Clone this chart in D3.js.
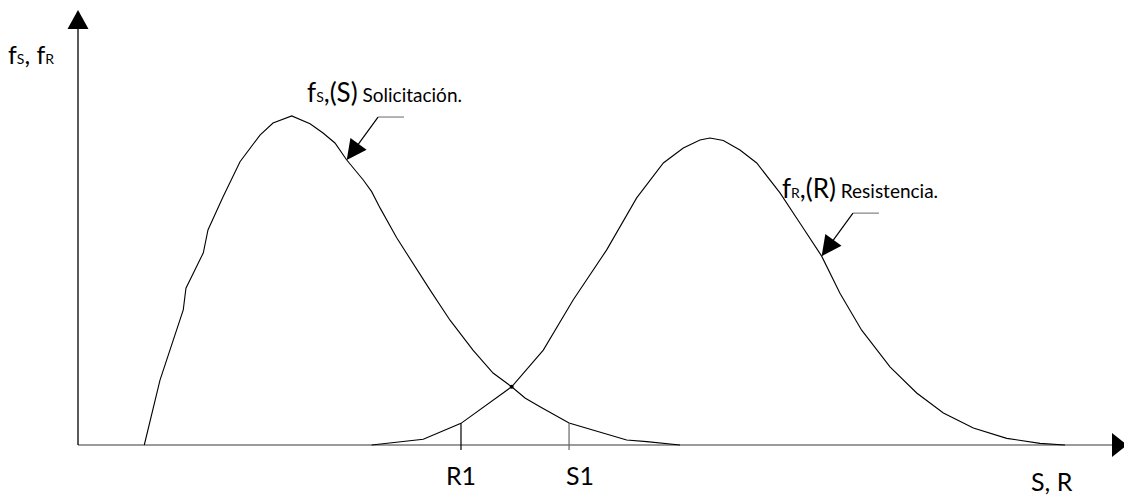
<!DOCTYPE html>
<html><head><meta charset="utf-8">
<script src="https://cdn.jsdelivr.net/npm/d3@7"></script>
<style>
body{margin:0;background:#fff}
svg{display:block}
text{font-family:Lato,'Open Sans',sans-serif;fill:#000}
</style>
</head><body>
<svg id="c" width="1124" height="498"></svg>
<script>
// Solicitación curve fS(s)
const sX = [6.41,7.93,10.18,10.44,12.12,12.57,14.02,15.67,17.60,18.86,20.67,22.44,23.70,24.85,25.99,27.59,28.40,29.21,30.82,34.04,35.98,38.20,40.14,41.94,43.23,44.68,47.49,53.06,55.00,58.22];
const sY = [0,0.156,0.325,0.377,0.462,0.517,0.596,0.681,0.745,0.774,0.791,0.772,0.750,0.726,0.685,0.637,0.609,0.570,0.498,0.373,0.300,0.228,0.173,0.140,0.113,0.092,0.053,0.012,0.008,0];
// Resistencia curve fR(R)
const rX = [28.40,33.39,37.04,41.94,45.00,47.90,51.13,54.03,56.61,58.54,60.15,61.12,62.41,64.02,65.64,67.89,69.83,71.92,73.69,75.79,78.53,81.11,83.69,86.59,89.82,93.04,95.45];
const rY = [0,0.014,0.052,0.140,0.228,0.349,0.469,0.594,0.678,0.714,0.733,0.738,0.732,0.709,0.678,0.606,0.533,0.454,0.365,0.276,0.188,0.125,0.077,0.041,0.016,0.004,0];
// marks on the x axis
const markLabels = ["R1","S1"];
const markX = [37.04,47.49];
const markY = [0.052,0.053];
// intersection point
const crossX = [41.94];
const crossY = [0.140];
// annotation anchors (curve points the arrows point to)
const annS = {x:25.99, y:0.685};
const annR = {x:71.92, y:0.454};

const svg = d3.select("#c");
const x = d3.scaleLinear().domain([0,100]).range([78,1112]);
const y = d3.scaleLinear().domain([0,1]).range([445,29]);

// axes
const x0 = x(0), y0 = y(0);
svg.append("line").attr("x1",x0).attr("y1",y0).attr("x2",x(100)).attr("y2",y0)
  .attr("stroke","#7a7a7a").attr("stroke-width",1.5);
svg.append("path").attr("d",`M${x(100)},${y0-12}L${x(100)+15},${y0}L${x(100)},${y0+12}Z`).attr("fill","#000");
svg.append("line").attr("x1",x0).attr("y1",y0).attr("x2",x0).attr("y2",y(1))
  .attr("stroke","#000").attr("stroke-width",1.3);
svg.append("path").attr("d",`M${x0-10.5},${y(1)}L${x0},${y(1)-19}L${x0+10.5},${y(1)}Z`).attr("fill","#000");

// curves
const line = d3.line().x(d=>x(d[0])).y(d=>y(d[1]));
svg.append("path").datum(sX.map((v,i)=>[v,sY[i]])).attr("d",line)
  .attr("fill","none").attr("stroke","#000").attr("stroke-width",1.1);
svg.append("path").datum(rX.map((v,i)=>[v,rY[i]])).attr("d",line)
  .attr("fill","none").attr("stroke","#000").attr("stroke-width",1.1);

// intersection dot
svg.selectAll("circle.cross").data(crossX).enter().append("circle")
  .attr("cx",d=>x(d)).attr("cy",(d,i)=>y(crossY[i])).attr("r",2).attr("fill","#000");

// marks
const markColors = ["#000","#666"];
const markDx = [0,11];
markX.forEach((v,i)=>{
  svg.append("line").attr("x1",x(v)).attr("x2",x(v)).attr("y1",y(markY[i])).attr("y2",y0+5)
    .attr("stroke",markColors[i]).attr("stroke-width",1.2);
  svg.append("text").attr("x",x(v)+markDx[i]).attr("y",485).attr("text-anchor","middle")
    .attr("font-size",25).text(markLabels[i]);
});

// axis labels
const yl = svg.append("text").attr("x",8).attr("y",64).attr("font-size",25);
yl.append("tspan").text("f");
yl.append("tspan").attr("font-size",14).text("S");
yl.append("tspan").text(", f");
yl.append("tspan").attr("font-size",14).text("R");
svg.append("text").attr("x",1031).attr("y",491).attr("font-size",25).text("S, R");

// annotations
function annotate(a, sub, arg, desc){
  const tx = x(a.x), ty = y(a.y);
  const ex = tx + 31.3, ey = ty - 43;
  svg.append("line").attr("x1",ex).attr("y1",ey).attr("x2",ex+26).attr("y2",ey)
    .attr("stroke","#808080").attr("stroke-width",1.2);
  svg.append("line").attr("x1",ex).attr("y1",ey).attr("x2",tx+8).attr("y2",ty-11)
    .attr("stroke","#000").attr("stroke-width",1.2);
  const dx = tx-ex, dy = ty-ey, L = Math.hypot(dx,dy), ux = dx/L, uy = dy/L;
  const bx = tx - ux*20, by = ty - uy*20;
  svg.append("path").attr("d",`M${tx},${ty}L${bx-uy*10},${by+ux*10}L${bx+uy*10},${by-ux*10}Z`).attr("fill","#000");
  const t = svg.append("text").attr("x",ex-71).attr("y",ey-15).attr("font-size",26);
  t.append("tspan").text("f");
  t.append("tspan").attr("font-size",14).text(sub);
  t.append("tspan").text(",("+arg+")");
  t.append("tspan").attr("font-size",19).text(" "+desc);
}
annotate(annS,"S","S","Solicitación.");
annotate(annR,"R","R","Resistencia.");
</script>
</body></html>
